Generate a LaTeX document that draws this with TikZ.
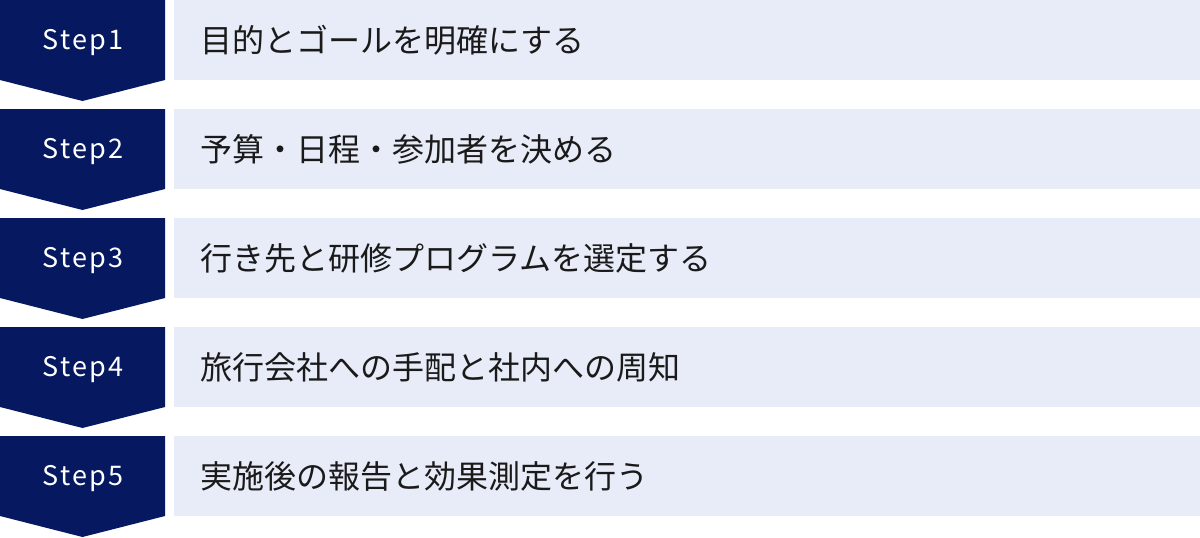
\documentclass[tikz,border=0pt]{standalone}
\usepackage{fontspec}
\setmainfont{Noto Sans CJK JP}
\newfontfamily\steplabelfont[LetterSpace=9]{Noto Sans CJK JP}
\definecolor{navy}{HTML}{06185F}
\definecolor{lightbox}{HTML}{E7ECF8}
\definecolor{ink}{HTML}{1A1A1A}
\begin{document}
\begin{tikzpicture}[x=1pt,y=-1pt,
  chevron/.style={fill=navy,draw=none},
  panel/.style={fill=lightbox,draw=none},
  steplabel/.style={text=white,font=\steplabelfont\fontsize{27}{32}\selectfont,inner sep=0pt,anchor=base},
  steptext/.style={text=ink,font=\fontsize{32}{38}\selectfont,inner sep=0pt,anchor=west}]
\useasboundingbox (0,0) rectangle (1200,538);
\foreach \i/\txt in {0/目的とゴールを明確にする,1/予算・日程・参加者を決める,2/行き先と研修プログラムを選定する,3/旅行会社への手配と社内への周知,4/実施後の報告と効果測定を行う}{
  \pgfmathsetmacro{\t}{109*\i}
  \pgfmathtruncatemacro{\n}{\i+1}
  \fill[chevron] (0,\t) -- (165,\t) -- (165,\t+80) -- (82.5,\t+101) -- (0,\t+80) -- cycle;
  \fill[panel] (174,\t) rectangle (1200,\t+80);
  \node[steplabel] (label\n) at (83,\t+49.5) {Step\n};
  \node[steptext] (text\n) at (200,\t+40) {\txt};
}
\end{tikzpicture}
\end{document}
